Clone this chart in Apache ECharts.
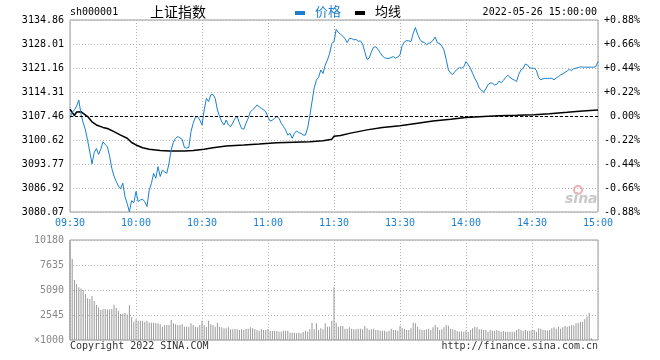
<!DOCTYPE html>
<html><head><meta charset="utf-8">
<script src="https://cdn.jsdelivr.net/npm/echarts/dist/echarts.min.js"></script>
<style>html,body{margin:0;padding:0;background:#fff}#c{width:660px;height:360px}</style>
</head><body><div id="c"></div>
<script>
const PREV_CLOSE = 3107.46;
const STEP = 6.85;
const timeTicks = ['09:30','10:00','10:30','11:00','11:30','13:30','14:00','14:30','15:00'];
const priceTicks = ['3080.07','3086.92','3093.77','3100.62','3107.46','3114.31','3121.16','3128.01','3134.86'];
const pctTicks = ['-0.88%','-0.66%','-0.44%','-0.22%','0.00%','+0.22%','+0.44%','+0.66%','+0.88%'];
const volTicks = ['×1000','2545','5090','7635','10180'];

// price per minute (index 0 = 09:30, 120 = 11:30/13:00, 240 = 15:00)
const price = [
3106.9,3108.5,3109.2,3110.3,3112.0,3108.0,3105.5,3103.5,3100.5,3097.2,
3093.8,3097.0,3098.2,3096.5,3098.0,3100.1,3099.3,3098.7,3096.0,3092.5,
3090.3,3088.8,3087.5,3086.7,3088.3,3084.4,3082.5,3080.1,3083.3,3082.7,
3085.9,3083.0,3083.5,3083.7,3083.0,3081.6,3086.3,3088.2,3091.1,3089.7,
3093.0,3090.2,3092.0,3091.5,3091.1,3094.0,3097.8,3100.0,3101.1,3101.6,
3101.2,3100.8,3098.5,3098.3,3098.5,3103.0,3105.4,3107.1,3107.3,3106.3,
3104.9,3109.2,3112.5,3111.6,3113.5,3113.6,3112.5,3109.2,3107.3,3105.8,
3104.9,3106.3,3104.9,3104.4,3105.5,3106.8,3107.3,3105.4,3103.9,3103.7,
3105.4,3106.8,3108.7,3109.2,3109.8,3110.6,3110.1,3109.6,3109.2,3108.7,
3107.1,3106.0,3106.3,3106.8,3107.3,3106.8,3105.4,3104.5,3103.5,3102.0,
3102.5,3101.1,3102.5,3103.2,3102.7,3102.5,3102.0,3102.0,3104.0,3107.5,
3111.5,3115.5,3117.7,3118.5,3120.6,3119.6,3122.0,3123.4,3125.3,3128.2,
3128.7,3132.2,3131.3,3130.8,3130.2,3129.6,3128.4,3129.6,3129.6,3129.2,
3129.3,3128.8,3128.9,3128.0,3125.8,3123.6,3124.0,3125.8,3127.1,3127.2,
3126.5,3125.5,3124.6,3124.1,3123.9,3123.9,3124.2,3124.4,3124.0,3124.3,
3124.9,3127.6,3128.6,3129.0,3128.9,3128.7,3131.0,3132.7,3130.8,3129.4,
3128.6,3128.5,3127.8,3128.2,3128.4,3129.1,3130.0,3128.3,3128.2,3127.4,
3126.3,3123.6,3120.6,3119.7,3119.3,3120.2,3120.8,3121.3,3121.1,3121.5,
3123.0,3122.1,3121.1,3119.6,3118.2,3117.1,3115.4,3114.9,3114.2,3115.2,
3116.4,3116.9,3116.8,3116.3,3116.5,3117.4,3117.0,3117.6,3118.5,3119.1,
3118.5,3118.0,3117.7,3117.3,3119.4,3120.6,3121.1,3122.3,3122.0,3121.2,
3121.1,3121.1,3120.5,3118.4,3117.8,3118.1,3118.2,3118.2,3118.2,3118.2,
3117.8,3118.3,3118.7,3119.2,3119.5,3119.9,3120.3,3120.8,3120.4,3121.0,
3121.1,3121.3,3121.5,3121.4,3121.4,3121.4,3121.4,3121.4,3121.4,3121.5,
3123.0
];

// average line, read at selected minutes
const avgMinute = [0,2,3,5,6,8,10,12,15,17,20,23,26,28,30,33,36,41,45,52,56,61,65,71,79,86,94,102,109,115,119,120,123,127,135,142,150,158,165,173,180,188,195,203,211,218,226,233,240];
const avgValue  = [3109.4,3107.6,3108.6,3108.7,3108.2,3107.3,3105.8,3104.9,3104.2,3103.9,3103.0,3102.0,3101.1,3099.9,3099.2,3098.4,3098.0,3097.6,3097.5,3097.5,3097.6,3097.95,3098.4,3098.9,3099.2,3099.5,3099.85,3100.0,3100.1,3100.4,3100.8,3101.7,3101.9,3102.5,3103.5,3104.2,3104.7,3105.4,3106.0,3106.5,3107.0,3107.3,3107.5,3107.65,3107.85,3108.1,3108.5,3108.9,3109.2];

// volume per minute (×1000)
const volume = [
10180,8240,6100,5700,5360,5250,5090,4680,4240,4170,
4480,3970,3560,3320,3050,3150,3150,3100,3100,3150,
3600,3250,2950,2650,2700,2750,2600,3550,2310,1870,
2100,1970,1970,1970,1870,1970,1760,1760,1760,1700,
1700,1600,1360,1490,1530,1530,2040,1700,1600,1530,
1530,1600,1360,1360,1360,1700,1530,1360,1290,1530,
1970,1530,1360,1970,1600,1530,1360,1760,1360,1290,
1190,1190,1290,1090,1090,1120,1090,1020,1090,1020,
1120,1150,1290,1190,1120,1020,950,1090,1020,1020,
1120,920,920,950,920,850,850,950,950,950,
750,750,750,680,750,680,810,950,850,1090,
1760,1090,1700,1020,1190,1090,1700,1360,1360,1970,
5360,1760,1360,1420,1420,1150,1150,1290,1150,1090,
1090,1150,1150,1090,1420,1190,1020,1090,1150,1020,
1020,950,950,950,850,950,1150,1020,1020,950,
1420,1220,1150,1020,1020,1190,1760,1700,1360,1090,
1020,1020,1090,1150,1020,1290,1530,1290,1020,1090,
1290,1530,1460,1150,1090,1020,920,850,880,850,
950,850,1020,1190,1360,1290,1090,1090,1020,1020,
850,1020,950,920,1020,950,850,920,850,850,
850,850,850,1020,1120,1020,920,1020,950,950,
1020,1020,850,1190,1150,1020,1020,950,1020,1190,
1290,1150,1360,1150,1290,1420,1360,1420,1490,1490,
1700,1760,1830,1870,2100,2380,2780,170,0,0,
0
];

const MONO = '"DejaVu Sans Mono", "Liberation Mono", monospace';
const BLUE = '#1a7fd0';
const tickIdx = v => Math.round((v + 4 * STEP) / STEP);
const sideColor = v => { const i = tickIdx(v); return i > 4 ? '#ff0000' : (i < 4 ? '#008000' : '#000000'); };

const priceData = price.map((p, i) => [i, +(p - PREV_CLOSE).toFixed(3)]);
const avgData = avgMinute.map((m, k) => [m, +(avgValue[k] - PREV_CLOSE).toFixed(3)]);
const volData = volume.map((v, i) => [i, v]);

const dotted = { show: true, lineStyle: { color: '#b4b4b4', type: [1, 2], width: 1 } };

const chart = echarts.init(document.getElementById('c'), null, { renderer: 'canvas' });
chart.setOption({
  animation: false,
  backgroundColor: '#fff',
  grid: [
    { left: 70, top: 20, width: 528, height: 192, show: true, borderColor: '#9a9a9a', borderWidth: 1 },
    { left: 70, top: 240, width: 528, height: 100, show: true, borderColor: '#9a9a9a', borderWidth: 1 }
  ],
  xAxis: [
    { type: 'value', gridIndex: 0, min: 0, max: 240, interval: 30,
      axisLine: { show: false }, axisTick: { show: false }, splitLine: dotted,
      axisLabel: { show: true, margin: 6, fontFamily: MONO, fontSize: 10, color: BLUE,
        showMinLabel: true, showMaxLabel: true, formatter: v => timeTicks[Math.round(v / 30)] } },
    { type: 'value', gridIndex: 1, min: 0, max: 240, interval: 30,
      axisLine: { show: false }, axisTick: { show: false }, splitLine: dotted, axisLabel: { show: false } }
  ],
  yAxis: [
    { type: 'value', gridIndex: 0, position: 'left', min: -4 * STEP, max: 4 * STEP, interval: STEP,
      axisLine: { show: false }, axisTick: { show: false }, splitLine: dotted,
      axisLabel: { margin: 6, fontFamily: MONO, fontSize: 10, showMinLabel: true, showMaxLabel: true,
        color: v => sideColor(v), formatter: v => priceTicks[tickIdx(v)] } },
    { type: 'value', gridIndex: 0, position: 'right', min: -4 * STEP, max: 4 * STEP, interval: STEP,
      axisLine: { show: false }, axisTick: { show: false }, splitLine: { show: false },
      axisLabel: { margin: 42, align: 'right', fontFamily: MONO, fontSize: 10, showMinLabel: true, showMaxLabel: true,
        color: v => sideColor(v), formatter: v => pctTicks[tickIdx(v)] } },
    { type: 'value', gridIndex: 1, min: 0, max: 10180, interval: 2545,
      axisLine: { show: false }, axisTick: { show: false }, splitLine: dotted,
      axisLabel: { margin: 6, fontFamily: MONO, fontSize: 10, color: '#888', showMinLabel: true, showMaxLabel: true,
        formatter: v => volTicks[Math.round(v / 2545)] } }
  ],
  series: [
    { name: '均线', type: 'line', xAxisIndex: 0, yAxisIndex: 0, data: avgData, showSymbol: false, symbol: 'none',
      lineStyle: { color: '#000', width: 1.5 }, z: 3 },
    { name: '价格', type: 'line', xAxisIndex: 0, yAxisIndex: 0, data: priceData, showSymbol: false, symbol: 'none',
      lineStyle: { color: BLUE, width: 1 }, z: 4,
      markLine: { silent: true, symbol: ['none', 'none'], label: { show: false },
        lineStyle: { color: '#000', type: [3, 2], width: 1 }, data: [{ yAxis: 0 }] } },
    { name: 'vol', type: 'bar', xAxisIndex: 1, yAxisIndex: 2, data: volData, barWidth: 1,
      itemStyle: { color: '#999' } }
  ],
  graphic: [
    { type: 'text', left: 70, top: 7, style: { text: 'sh000001', font: '10px ' + MONO, fill: '#000' } },
    { type: 'text', left: 150, top: 5, style: { text: '上证指数', font: '14px "Noto Sans CJK SC"', fill: '#000' } },
    { type: 'rect', shape: { x: 295, y: 11, width: 10, height: 4 }, style: { fill: BLUE } },
    { type: 'text', left: 315, top: 5, style: { text: '价格', font: '13px "Noto Sans CJK SC"', fill: BLUE } },
    { type: 'rect', shape: { x: 355, y: 11, width: 10, height: 4 }, style: { fill: '#000' } },
    { type: 'text', left: 375, top: 5, style: { text: '均线', font: '13px "Noto Sans CJK SC"', fill: '#000' } },
    { type: 'text', right: 63, top: 7, style: { text: '2022-05-26 15:00:00', font: '10px ' + MONO, fill: '#000' } },
    { type: 'text', left: 70, top: 341, style: { text: 'Copyright 2022 SINA.COM', font: '10px ' + MONO, fill: '#333' } },
    { type: 'text', right: 62, top: 341, style: { text: 'http://finance.sina.com.cn', font: '10px ' + MONO, fill: '#333' } },
    { type: 'circle', shape: { cx: 578, cy: 190, r: 4 }, style: { fill: 'none', stroke: '#f0b0b0', lineWidth: 2 } },
    { type: 'text', left: 565, top: 192, style: { text: 'sina', font: 'italic bold 14px "DejaVu Sans"', fill: '#c8c8c8' } }
  ]
});
</script>
</body></html>
